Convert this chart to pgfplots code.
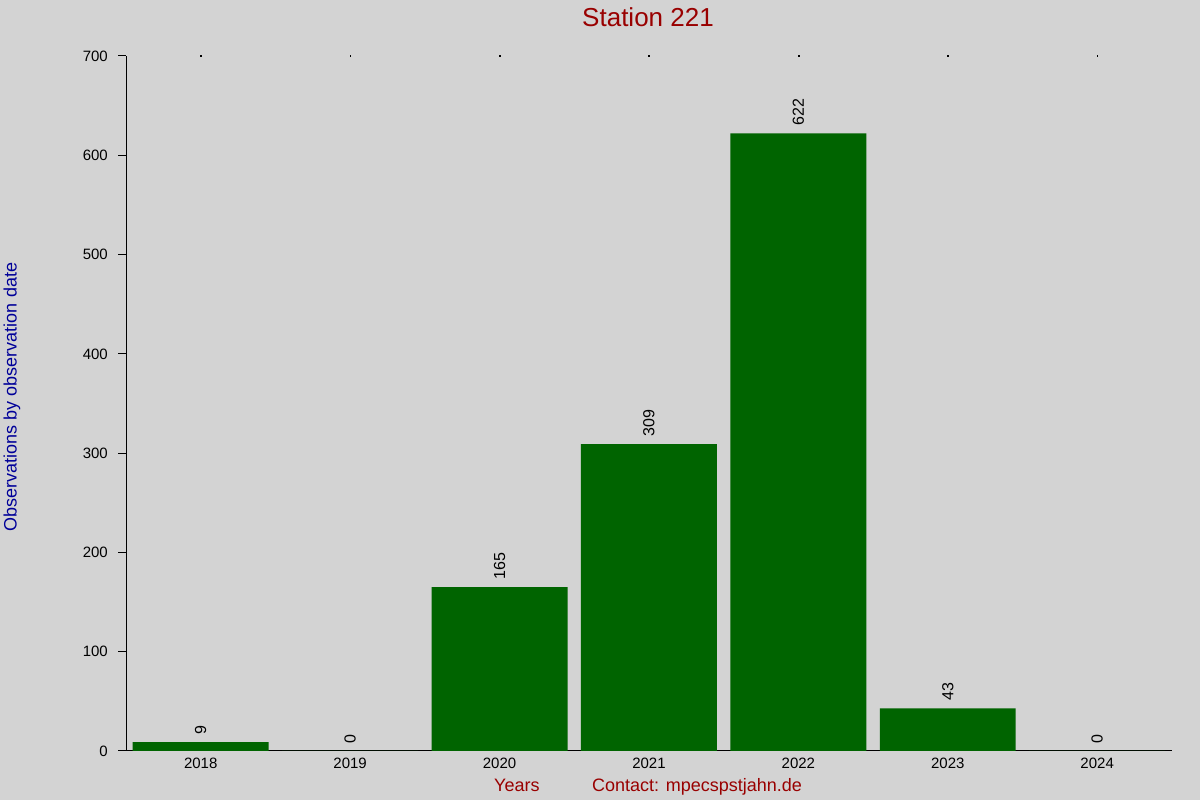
\documentclass[border=0pt]{standalone}
\usepackage{fontspec}
\setmainfont{Liberation Sans}
\usepackage{pgfplots}
\pgfplotsset{compat=1.18}
\definecolor{bg}{HTML}{D3D3D3}
\definecolor{bargreen}{HTML}{006400}
\definecolor{titlered}{HTML}{990000}
\definecolor{ylabblue}{HTML}{000099}
\begin{document}
\begin{tikzpicture}[x=1pt,y=1pt]
\fill[bg] (0,0) rectangle (1200,800);
\begin{axis}[
  at={(126pt,49pt)}, anchor=south west,
  scale only axis, width=1046pt, height=695pt,
  xmin=2017.5, xmax=2024.5, ymin=0, ymax=700,
  axis lines=left, axis line style={-, line width=1pt, black},
  xtick={2018,2019,2020,2021,2022,2023,2024},
  xticklabels={2018,2019,2020,2021,2022,2023,2024},
  xtick style={draw=none},
  ytick={0,100,...,700},
  ytick style={line width=1pt, black},
  tick align=outside, major tick length=8pt,
  /pgf/number format/assume math mode=true,
  /pgf/number format/1000 sep={},
  tick label style={font=\fontsize{15}{18}\selectfont, black},
  xticklabel style={anchor=north, inner sep=0pt, yshift=1pt},
  yticklabel style={anchor=east, inner sep=0pt, xshift=-10pt},
  clip=false,
]
\addplot[ybar, bar width=0.91, fill=bargreen, draw=none,
  nodes near coords,
  nodes near coords style={rotate=90, anchor=west, inner sep=0pt, xshift=7.5pt, font=\fontsize{16}{19}\selectfont, black}]
  coordinates {(2018,9) (2019,0) (2020,165) (2021,309) (2022,622) (2023,43) (2024,0)};
\addplot[only marks, mark=square*, mark size=0.35pt, black, forget plot]
  coordinates {(2018,700) (2019,700) (2020,700) (2021,700) (2022,700) (2023,700) (2024,700)};
\end{axis}
\node[anchor=base, text=titlered, font=\fontsize{26}{30}\selectfont, inner sep=0pt] at (648,773) {Station 221};
\node[rotate=90, text=ylabblue, font=\fontsize{18}{21}\selectfont, inner sep=0pt] at (12,403) {Observations by observation date};
\node[anchor=base west, text=titlered, font=\fontsize{18}{21}\selectfont, inner sep=0pt] at (494,8) {Years};
\node[anchor=base west, text=titlered, font=\fontsize{18}{21}\selectfont, inner sep=0pt] at (592,8) {Contact: mpecspstjahn.de};
\end{tikzpicture}
\end{document}
